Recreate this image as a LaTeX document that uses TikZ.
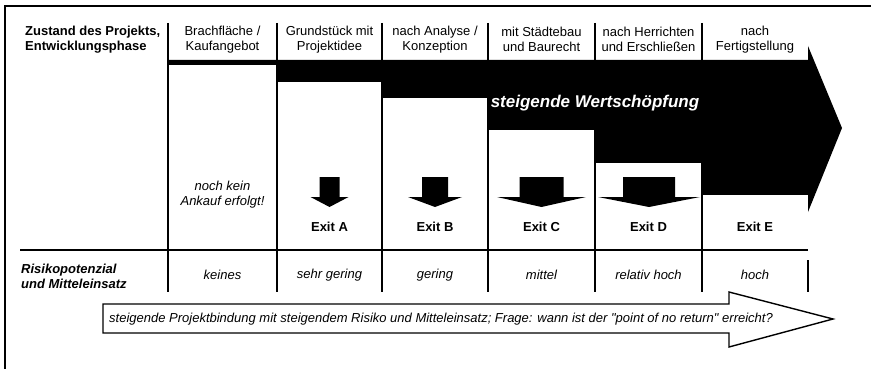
\documentclass[tikz,border=0pt]{standalone}
\usepackage{fontspec}
\setmainfont{Liberation Sans}
\newcommand{\exitarr}[3]{%
  \fill (#1-#2,177) -- (#1+#2,177) -- (#1+#2,197) -- (#1+#3,197) -- (#1,207) -- (#1-#3,197) -- (#1-#2,197) -- cycle;}
\begin{document}
\begin{tikzpicture}[x=1pt,y=-1pt,
  sepline/.style={line width=2.4pt},
  txt/.style={font=\fontsize{13}{15}\selectfont, align=center, inner sep=0pt},
  boldtxt/.style={txt, font=\fontsize{13}{15}\selectfont\bfseries},
  ittxt/.style={txt, font=\fontsize{13}{15}\selectfont\itshape},
  bittxt/.style={txt, font=\fontsize{13}{15}\selectfont\bfseries\itshape},
  whitebox/.style={fill=white, draw=none}]
\useasboundingbox (0,0) rectangle (871,369);
\clip (0,0) rectangle (871,369);
% outer frame
\draw[line width=1.4pt] (5,375) -- (5,6) -- (880,6);
% big black arrow
\fill (168,60) -- (808,60) -- (808,46) -- (842,128) -- (808,212) -- (808,195) -- (168,195) -- cycle;
% staircase white boxes
\fill[white] (168,65) rectangle (277,250);
\fill[white] (277,82) rectangle (382,250);
\fill[white] (382,98) rectangle (488,250);
\fill[white] (488,130) rectangle (595,250);
\fill[white] (595,163) rectangle (702,250);
\fill[white] (702,195) rectangle (808,250);
% separators
\foreach \x in {168,277,382,488,595,702} \draw[sepline] (\x,23) -- (\x,292);
\draw[sepline] (808,260) -- (808,292);
\draw[line width=2pt] (20,250) -- (808,250);
% exit arrows
\exitarr{329.5}{10}{19}
\exitarr{435}{13}{27}
\exitarr{541.5}{22}{44.5}
\exitarr{649}{26}{51}
% header
\node[boldtxt, align=left, anchor=west] (hdrlabel) at (25,39.5) {Zustand des Projekts,\\Entwicklungsphase};
\node[txt] (h1) at (222.5,39.5) {Brachfläche /\\Kaufangebot};
\node[txt] (h2) at (329.5,39.5) {Grundstück mit\\Projektidee};
\node[txt] (h3) at (435,39.5) {nach Analyse /\\Konzeption};
\node[txt] (h4) at (541.5,39.5) {mit Städtebau\\und Baurecht};
\node[txt] (h5) at (648.5,39.5) {nach Herrichten\\und Erschließen};
\node[txt] (h6) at (755,39.5) {nach\\Fertigstellung};
\node[txt, text=white, font=\fontsize{17}{20}\selectfont\bfseries\itshape] (wert) at (595,103) {steigende Wertschöpfung};
\node[ittxt] (nochkein) at (222.5,195) {noch kein\\Ankauf erfolgt!};
\node[boldtxt] (exa) at (329.5,227) {Exit A};
\node[boldtxt] (exb) at (435,227) {Exit B};
\node[boldtxt] (exc) at (541.5,227) {Exit C};
\node[boldtxt] (exd) at (648.5,227) {Exit D};
\node[boldtxt] (exe) at (755,227) {Exit E};
% risk row
\node[bittxt, align=left, anchor=west] (risklabel) at (21,276) {Risikopotenzial\\und Mitteleinsatz};
\node[ittxt] (r1) at (222.5,275) {keines};
\node[ittxt] (r2) at (329.5,275) {sehr gering};
\node[ittxt] (r3) at (435,275) {gering};
\node[ittxt] (r4) at (541.5,275) {mittel};
\node[ittxt] (r5) at (648.5,275) {relativ hoch};
\node[ittxt] (r6) at (755,275) {hoch};
% bottom arrow
\draw[line width=1.4pt, fill=white, line join=miter] (103,304) -- (729,304) -- (729,292) -- (833,319) -- (729,347) -- (729,333) -- (103,333) -- cycle;
\node[ittxt, anchor=west] (bottomtext) at (109,319) {steigende Projektbindung mit steigendem Risiko und Mitteleinsatz; Frage: wann ist der \textquotedbl point of no return\textquotedbl{} erreicht?};
\end{tikzpicture}
\end{document}
